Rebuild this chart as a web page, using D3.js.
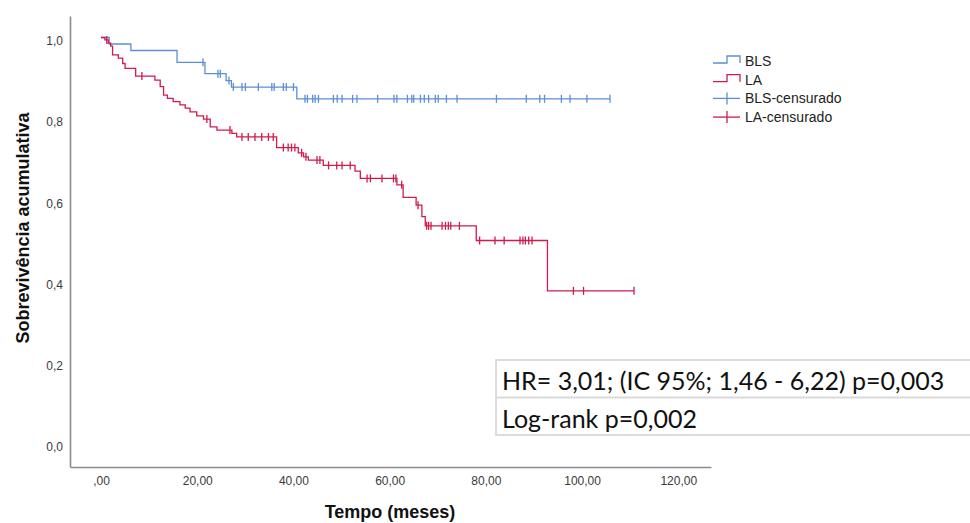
<!DOCTYPE html>
<html>
<head>
<meta charset="utf-8">
<script src="https://cdn.jsdelivr.net/npm/d3@7"></script>
<style>
  body { margin: 0; background: #fff; }
  svg { display: block; }
</style>
</head>
<body>
<svg id="chart" width="970" height="523"></svg>
<script>
// Kaplan-Meier data (time in months, cumulative survival)
const blsEventTimes = [1.7, 6.2, 15.8, 21.6, 26.0, 27.1, 40.7]
const blsEventSurv = [0.984, 0.968, 0.939, 0.911, 0.894, 0.878, 0.849]
const blsCensorTimes = [21.2, 24.3, 24.8, 26.6, 27.5, 29.3, 30.0, 32.7, 35.5, 36.0, 37.9, 38.5, 40.0,
  42.4, 42.9, 44.0, 44.5, 45.2, 48.3, 49.1, 50.1, 52.3, 53.2, 57.5, 60.9, 61.5, 63.7, 64.6, 65.0,
  66.4, 67.2, 68.1, 69.5, 70.1, 71.8, 74.0, 82.2, 88.4, 91.2, 92.2, 95.7, 97.5, 101.0, 105.8]

const laEventTimes = [0.8, 1.5, 2.0, 2.4, 3.6, 4.5, 5.0, 7.2, 11.2, 12.3, 13.0, 13.8, 15.0, 16.4, 17.5,
  18.5, 19.9, 21.3, 22.7, 24.1, 27.2, 28.2, 36.5, 41.0, 42.1, 43.1, 46.2, 52.8, 53.9, 61.5, 62.8,
  65.5, 66.7, 67.4, 78.0, 92.8]
const laEventSurv = [0.994, 0.986, 0.979, 0.957, 0.949, 0.936, 0.924, 0.905, 0.895, 0.879, 0.858, 0.850,
  0.842, 0.834, 0.826, 0.817, 0.807, 0.799, 0.780, 0.772, 0.764, 0.755, 0.729, 0.716, 0.706, 0.698,
  0.685, 0.671, 0.653, 0.637, 0.606, 0.587, 0.559, 0.536, 0.500, 0.376]
const laCensorTimes = [1.2, 8.5, 22.0, 26.8, 29.3, 30.6, 32.0, 33.4, 34.8, 35.8, 37.9, 38.9, 39.6, 40.3,
  41.7, 42.6, 44.9, 45.5, 47.3, 49.0, 50.1, 51.8, 55.3, 56.0, 58.4, 60.8, 61.3, 62.5, 65.9, 67.7,
  68.1, 68.6, 70.9, 71.6, 72.2, 72.7, 74.5, 78.7, 81.9, 83.8, 87.1, 87.7, 88.2, 88.9, 89.6, 98.2,
  100.3, 110.8]

const xTickValues = [0, 20, 40, 60, 80, 100, 120]
const xTickLabels = [",00", "20,00", "40,00", "60,00", "80,00", "100,00", "120,00"]
const yTickValues = [0, 0.2, 0.4, 0.6, 0.8, 1.0]
const yTickLabels = ["0,0", "0,2", "0,4", "0,6", "0,8", "1,0"]

const legendLabels = ["BLS", "LA", "BLS-censurado", "LA-censurado"]
const statLines = ["HR= 3,01; (IC 95%; 1,46 - 6,22) p=0,003", "Log-rank p=0,002"]

const blue = "#5b8fd6"
const red = "#d21a4c"
const axisColor = "#8c8c8c"
const tickFont = "'Liberation Sans', Arial, sans-serif"

const svg = d3.select("#chart")

// Scales
const x = d3.scaleLinear().domain([-6.45, 126.8]).range([70, 711])
const y = d3.scaleLinear().domain([-0.058, 1.053]).range([467, 16])

// Axes (no tick marks, only labels)
const xAxis = d3.axisBottom(x)
  .tickValues(xTickValues)
  .tickSize(0)
  .tickPadding(9)
  .tickFormat((d, i) => xTickLabels[i])

svg.append("g")
  .attr("class", "x-axis")
  .attr("transform", `translate(0, ${y.range()[0]})`)
  .call(xAxis)
  .call(g => g.select(".domain").attr("stroke", axisColor).attr("stroke-width", 1.6))
  .selectAll("text")
  .style("font-family", tickFont)
  .style("font-size", "12px")
  .style("fill", "#3a3a3a")

const yAxis = d3.axisLeft(y)
  .tickValues(yTickValues)
  .tickSize(0)
  .tickPadding(7)
  .tickFormat((d, i) => yTickLabels[i])

svg.append("g")
  .attr("class", "y-axis")
  .attr("transform", `translate(${x.range()[0]}, 0)`)
  .call(yAxis)
  .call(g => g.select(".domain").attr("stroke", axisColor).attr("stroke-width", 1.6))
  .selectAll("text")
  .attr("dy", "0.6em")
  .style("font-family", tickFont)
  .style("font-size", "12px")
  .style("fill", "#3a3a3a")

// Axis titles
svg.append("text")
  .attr("x", 390)
  .attr("y", 518)
  .attr("text-anchor", "middle")
  .style("font-family", tickFont)
  .style("font-weight", "bold")
  .style("font-size", "18px")
  .style("fill", "#111")
  .text("Tempo (meses)")

svg.append("text")
  .attr("transform", "translate(29, 228) rotate(-90)")
  .attr("text-anchor", "middle")
  .style("font-family", tickFont)
  .style("font-weight", "bold")
  .style("font-size", "18px")
  .style("fill", "#111")
  .text("Sobrevivência acumulativa")

// Survival at time t for a step curve
function survAt(times, surv, t) {
  let s = 1
  times.forEach((tt, i) => { if (tt <= t) s = surv[i] })
  return s
}

function drawCurve(times, surv, censors, color) {
  const end = d3.max(censors.concat(times))
  const pts = [[0, 1]].concat(times.map((t, i) => [t, surv[i]]))
  pts.push([end, surv[surv.length - 1]])

  const line = d3.line()
    .x(d => x(d[0]))
    .y(d => y(d[1]))
    .curve(d3.curveStepAfter)

  svg.append("path")
    .datum(pts)
    .attr("fill", "none")
    .attr("stroke", color)
    .attr("stroke-width", 1.3)
    .attr("d", line)

  // Censor marks
  svg.append("g")
    .selectAll("line")
    .data(censors)
    .enter()
    .append("line")
    .attr("x1", d => x(d))
    .attr("x2", d => x(d))
    .attr("y1", d => y(survAt(times, surv, d)) - 4)
    .attr("y2", d => y(survAt(times, surv, d)) + 4)
    .attr("stroke", color)
    .attr("stroke-width", 1.3)
}

drawCurve(blsEventTimes, blsEventSurv, blsCensorTimes, blue)
drawCurve(laEventTimes, laEventSurv, laCensorTimes, red)

// Legend
const legend = svg.append("g").attr("class", "legend")
const legendColors = [blue, red, blue, red]
legendLabels.forEach((label, i) => {
  const cy = 61 + i * 18.7
  const g = legend.append("g").attr("transform", `translate(713, ${cy})`)
  if (i < 2) {
    g.append("path")
      .attr("d", "M0,2 H14 V-5 H27 V2")
      .attr("fill", "none")
      .attr("stroke", legendColors[i])
      .attr("stroke-width", 1.3)
  } else {
    g.append("line").attr("x1", 0).attr("x2", 27)
      .attr("stroke", legendColors[i]).attr("stroke-width", 1.3)
    g.append("line").attr("x1", 14).attr("x2", 14).attr("y1", -6).attr("y2", 6)
      .attr("stroke", legendColors[i]).attr("stroke-width", 1.3)
  }
  g.append("text")
    .attr("x", 32)
    .attr("dy", "0.35em")
    .style("font-family", tickFont)
    .style("font-size", "14px")
    .style("fill", "#222")
    .text(label)
})

// Stats box
const box = svg.append("g").attr("class", "stats")
box.append("rect")
  .attr("x", 496).attr("y", 360)
  .attr("width", 490).attr("height", 75)
  .attr("fill", "#fff")
  .attr("stroke", "#d9d9d9")
  .attr("stroke-width", 1.8)
box.append("line")
  .attr("x1", 496).attr("x2", 986)
  .attr("y1", 397.5).attr("y2", 397.5)
  .attr("stroke", "#d9d9d9")
  .attr("stroke-width", 1.8)
statLines.forEach((s, i) => {
  box.append("text")
    .attr("x", 502)
    .attr("y", 390 + i * 38)
    .style("font-family", "Lato, 'Open Sans', sans-serif")
    .style("font-size", "25px")
    .style("fill", "#111")
    .text(s)
})
</script>
</body>
</html>
